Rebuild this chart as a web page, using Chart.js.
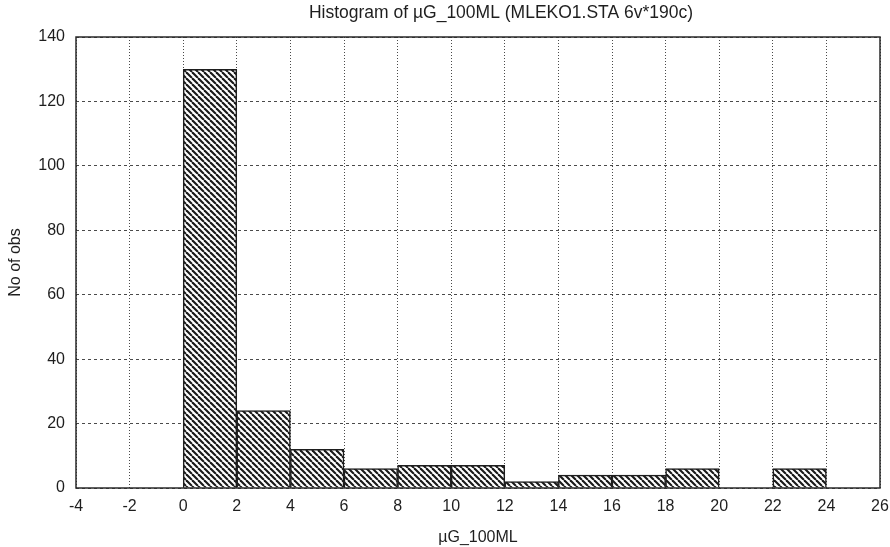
<!DOCTYPE html>
<html>
<head>
<meta charset="utf-8">
<script src="https://cdn.jsdelivr.net/npm/chart.js@4"></script>
<style>
  html, body { margin: 0; padding: 0; background: #ffffff; }
  #wrap { width: 890px; height: 547px; position: relative; }
</style>
</head>
<body>
<div id="wrap"><canvas id="c" width="890" height="547"></canvas></div>
<script>
// ---- data ----
const titleText = "Histogram of \u00b5G_100ML (MLEKO1.STA 6v*190c)";
const xLabel = "\u00b5G_100ML";
const yLabel = "No of obs";
const binStarts = [0, 2, 4, 6, 8, 10, 12, 14, 16, 18, 20, 22];
const binWidth = 2;
const counts = [130, 24, 12, 6, 7, 7, 2, 4, 4, 6, 0, 6];
const xMin = -4, xMax = 26, xStep = 2;
const yMin = 0, yMax = 140, yStep = 20;

const FONT = '"Liberation Sans", Arial, sans-serif';
const TXT = '#1e1e1e';

function hatch() {
  const s = 6;
  const c = document.createElement('canvas');
  c.width = s; c.height = s;
  const g = c.getContext('2d');
  g.fillStyle = '#ffffff';
  g.fillRect(0, 0, s, s);
  g.strokeStyle = '#1a1a1a';
  g.lineWidth = 2.1;
  for (let k = -1; k <= 1; k++) {
    g.beginPath();
    g.moveTo(k * s, 0);
    g.lineTo(k * s + s, s);
    g.stroke();
  }
  return g.createPattern(c, 'repeat');
}

const points = binStarts.map((b, i) => ({ x: b + binWidth / 2, y: counts[i] }));

const framePlugin = {
  id: 'frame',
  afterDatasetsDraw(chart) {
    const a = chart.chartArea, ctx = chart.ctx;
    ctx.save();
    ctx.strokeStyle = '#2a2a2a';
    ctx.lineWidth = 1.5;
    ctx.strokeRect(a.left, a.top, a.right - a.left, a.bottom - a.top);
    ctx.restore();
  },
  afterDraw(chart) {
    const ctx = chart.ctx;
    ctx.save();
    ctx.fillStyle = TXT;
    ctx.font = '17.5px ' + FONT;
    ctx.textAlign = 'center';
    ctx.textBaseline = 'middle';
    ctx.fillText(titleText, 501, 13);
    ctx.restore();
  }
};

new Chart(document.getElementById('c'), {
  type: 'bar',
  data: {
    datasets: [{
      data: points,
      backgroundColor: hatch(),
      borderColor: '#1e1e1e',
      borderWidth: 1.5,
      barPercentage: 1.0,
      categoryPercentage: 1.0
    }]
  },
  options: {
    responsive: false,
    animation: false,
    layout: { autoPadding: false, padding: { top: 37, right: 10, left: 0, bottom: 0 } },
    plugins: { legend: { display: false }, tooltip: { enabled: false }, title: { display: false } },
    scales: {
      x: {
        type: 'linear',
        min: xMin, max: xMax,
        offset: false,
        afterFit(s) { s.height = 59; s.paddingLeft = 0; s.paddingRight = 0; },
        ticks: { stepSize: xStep, color: TXT, font: { family: FONT, size: 16 }, padding: 9, maxRotation: 0, autoSkip: false },
        grid: { color: '#4a4a4a', lineWidth: 1, drawTicks: false, offset: false },
        border: { display: false, dash: [1, 2] },
        title: { display: true, text: xLabel, color: TXT, font: { family: FONT, size: 16 }, padding: { top: 0, bottom: 0 } }
      },
      y: {
        min: yMin, max: yMax,
        afterFit(s) { s.width = 76; s.paddingTop = 0; s.paddingBottom = 0; },
        ticks: { stepSize: yStep, color: TXT, font: { family: FONT, size: 16 }, padding: 11 },
        grid: { color: '#4a4a4a', lineWidth: 1, drawTicks: false },
        border: { display: false, dash: [3, 3] },
        title: { display: true, text: yLabel, color: TXT, font: { family: FONT, size: 16 }, padding: { top: 6, bottom: 0 } }
      }
    }
  },
  plugins: [framePlugin]
});
</script>
</body>
</html>
